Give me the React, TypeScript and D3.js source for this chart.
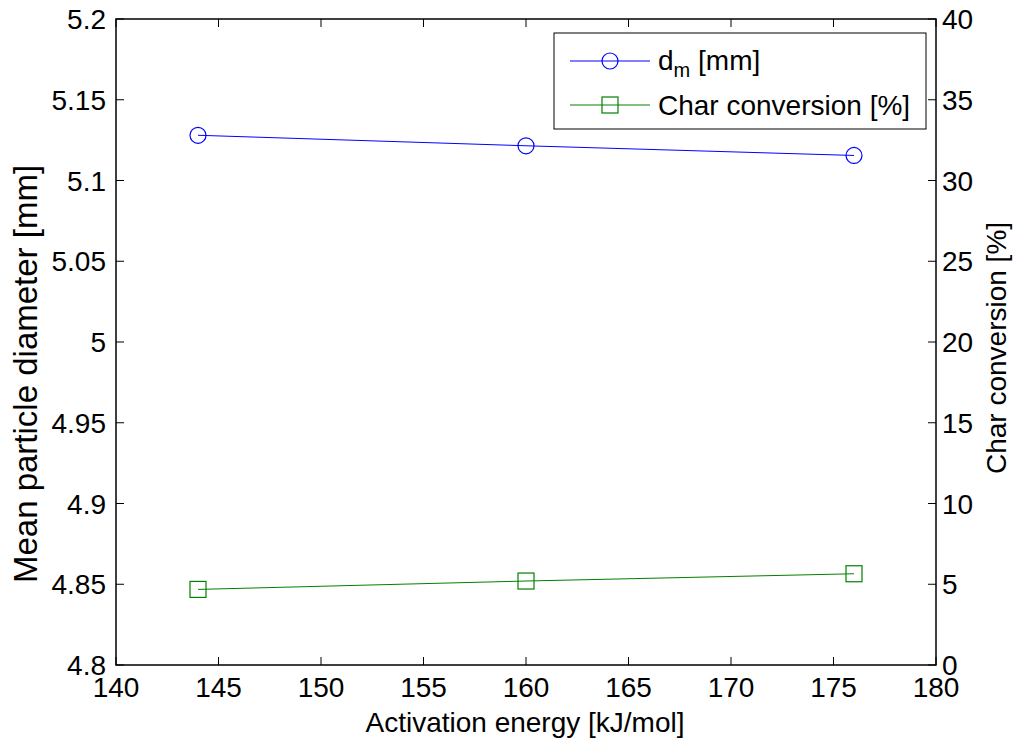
import React from "react";
import * as d3 from "d3";

const energies = [144, 160, 176];
const meanDiameter = [5.128, 5.1215, 5.1155];
const charConversion = [4.68, 5.2, 5.65];
const xTicks = [140, 145, 150, 155, 160, 165, 170, 175, 180];
const yLeftTicks = [4.8, 4.85, 4.9, 4.95, 5, 5.05, 5.1, 5.15, 5.2];
const yRightTicks = [0, 5, 10, 15, 20, 25, 30, 35, 40];

const W = 1014, H = 742;
const L = 116, R = 936, T = 19, B = 665;
const FONT = "'Liberation Sans', Arial, sans-serif";
const FS = 28;

export default function App() {
  const x = d3.scaleLinear().domain([140, 180]).range([L, R]);
  const yl = d3.scaleLinear().domain([4.8, 5.2]).range([B, T]);
  const yr = d3.scaleLinear().domain([0, 40]).range([B, T]);
  const tk = 8;
  const lineL = d3.line<number>().x((_, i) => x(energies[i])).y((d) => yl(d));
  const lineR = d3.line<number>().x((_, i) => x(energies[i])).y((d) => yr(d));
  const fmtL = (v: number) => String(+v.toFixed(2));
  return (
    <svg width={W} height={H} style={{ position: "absolute", left: 0, top: 0, background: "#fff" }} fontFamily={FONT}>
      <rect x={0} y={0} width={W} height={H} fill="#fff" />
      <rect x={L} y={T} width={R - L} height={B - T} fill="none" stroke="#000" strokeWidth={1.5} />
      {xTicks.map((t) => (
        <g key={"x" + t}>
          <line x1={x(t)} x2={x(t)} y1={B} y2={B - tk} stroke="#000" strokeWidth={1} />
          <line x1={x(t)} x2={x(t)} y1={T} y2={T + tk} stroke="#000" strokeWidth={1} />
          <text x={x(t)} y={697} textAnchor="middle" fontSize={FS}>{t}</text>
        </g>
      ))}
      {yLeftTicks.map((t) => (
        <g key={"l" + t}>
          <line x1={L} x2={L + tk} y1={yl(t)} y2={yl(t)} stroke="#000" strokeWidth={1} />
          <text x={106} y={yl(t) + 10} textAnchor="end" fontSize={FS}>{fmtL(t)}</text>
        </g>
      ))}
      {yRightTicks.map((t) => (
        <g key={"r" + t}>
          <line x1={R} x2={R - tk} y1={yr(t)} y2={yr(t)} stroke="#000" strokeWidth={1} />
          <text x={942} y={yr(t) + 10} textAnchor="start" fontSize={FS}>{t}</text>
        </g>
      ))}
      <path d={lineL(meanDiameter) || ""} fill="none" stroke="#0000ff" strokeWidth={1} />
      {meanDiameter.map((v, i) => (
        <circle key={"c" + i} cx={x(energies[i])} cy={yl(v)} r={8} fill="none" stroke="#0000ff" strokeWidth={1.2} />
      ))}
      <path d={lineR(charConversion) || ""} fill="none" stroke="#008000" strokeWidth={1} />
      {charConversion.map((v, i) => (
        <rect key={"s" + i} x={x(energies[i]) - 8} y={yr(v) - 8} width={16} height={16} fill="none" stroke="#008000" strokeWidth={1.2} />
      ))}
      <text x={525} y={732} textAnchor="middle" fontSize={FS}>Activation energy [kJ/mol]</text>
      <text transform={`translate(37,374) rotate(-90)`} textAnchor="middle" fontSize={33}>Mean particle diameter [mm]</text>
      <text transform={`translate(1006,348) rotate(-90)`} textAnchor="middle" fontSize={FS}>Char conversion [%]</text>
      <rect x={554} y={33} width={372} height={96} fill="#fff" stroke="#000" strokeWidth={1} />
      <line x1={570} x2={650} y1={61} y2={61} stroke="#0000ff" strokeWidth={1} />
      <circle cx={610} cy={61} r={8} fill="none" stroke="#0000ff" strokeWidth={1.2} />
      <text x={658} y={70} fontSize={FS}>d<tspan fontSize={20} dy={7}>m</tspan><tspan dy={-7}> [mm]</tspan></text>
      <line x1={570} x2={650} y1={105} y2={105} stroke="#008000" strokeWidth={1} />
      <rect x={602} y={97} width={16} height={16} fill="none" stroke="#008000" strokeWidth={1.2} />
      <text x={658} y={115} fontSize={FS}>Char conversion [%]</text>
    </svg>
  );
}
